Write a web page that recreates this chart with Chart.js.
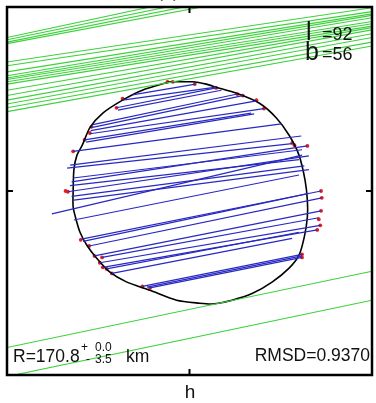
<!DOCTYPE html>
<html>
<head>
<meta charset="utf-8">
<script src="https://cdn.jsdelivr.net/npm/chart.js@4/dist/chart.umd.min.js"></script>
<style>
  body { margin: 0; background: #fff; }
  #wrap { width: 376px; height: 403px; }
</style>
</head>
<body>
<div id="wrap"><canvas id="chart" width="376" height="403"></canvas></div>
<script>
// plane of sky, km
const xRange = [-240, 240];
const yRange = [-241, 241];

// shape outline
const outlineX = [-26, 4, 22, 35, 62, 92, 114, 131, 144, 152, 155, 155, 151, 144, 131, 109, 83, 56, 30, 13, -17, -52, -83, -105, -122, -135, -144, -149, -153, -153, -152, -148, -141, -131, -114, -88, -62, -26];
const outlineY = [143, 143, 140, 136, 128, 115, 96, 73, 47, 14, -12, -34, -60, -84, -101, -119, -134, -143, -148, -147, -143, -130, -119, -106, -88, -71, -54, -38, -21, 1, 28, 47, 60, 83, 102, 119, 132, 143];

// positive chords
const chordX1 = [-75, -88, -96, -94, -127, -129, -130, -131, -138, -136, -153, -157, -161, -153, -155, -160, -157, -155, -152, -181, -152, -142, -140, -132, -125, -115, -118, -114, -109, -102, -62, -56, -52];
const chordY1 = [126, 119, 109, 106, 87, 83, 79, 75, 67, 64, 52, 34, 30, 17, 12, -1, 7, -7, -12, -30, -38, -63, -66, -72, -85, -87, -94, -100, -102, -108, -125, -126, -127];
const chordX2 = [8, 35, 35, 42, 63, 70, 88, 98, 81, 85, 121, 147, 135, 148, 155, 157, 144, 151, 157, 148, 144, 173, 157, 174, 173, 170, 172, 168, 144, 135, 148, 148, 148];
const chordY2 = [140, 136, 135, 132, 127, 125, 118, 108, 102, 101, 88, 72, 62, 54, 59, 46, 41, 33, 28, 47, 21, 0, -3, -9, -26, -35, -45, -51, -54, -62, -83, -85, -87];

// negative chords (y at left and right edge)
const missLeftY = [201, 198, 195, 193, 169, 164, 156, 151, 148, 146, 143, 140, 132, 125, 119, 114, 109, 104, -205, -243];
const missRightY = [303, 296, 290, 283, 240, 235, 232, 230, 227, 222, 219, 216, 214, 211, 206, 201, 195, 190, -105, -143];

// timing points
const dotX = [-29, -22, 7, 35, 63, 70, 88, 98, -88, -96, -129, -131, -138, -153, 135, 138, 155, -160, -163, 173, 174, 173, 170, 172, 168, -143, -132, -125, -115, -118, -114, -109, -102, -62, -52, 148, 148];
const dotY = [143, 143, 140, 135, 127, 125, 119, 108, 121, 109, 84, 76, 67, 52, 63, 60, 59, -1, 0, 0, -9, -26, -37, -45, -51, -64, -72, -85, -87, -94, -100, -102, -108, -125, -127, -83, -87];

const datasets = [];

missLeftY.forEach((yl, i) => {
    datasets.push({
        data: [{ x: xRange[0], y: yl }, { x: xRange[1], y: missRightY[i] }],
        showLine: true,
        borderColor: "rgb(60,210,60)",
        borderWidth: 1.1,
        pointRadius: 0
    });
});

chordX1.forEach((x1, i) => {
    datasets.push({
        data: [{ x: x1, y: chordY1[i] }, { x: chordX2[i], y: chordY2[i] }],
        showLine: true,
        borderColor: "rgb(40,40,195)",
        borderWidth: 1.2,
        pointRadius: 0
    });
});

datasets.push({
    data: outlineX.map((x, i) => ({ x: x, y: outlineY[i] })),
    showLine: true,
    borderColor: "#000",
    borderWidth: 1.6,
    tension: 0.25,
    pointRadius: 0
});

datasets.push({
    data: dotX.map((x, i) => ({ x: x, y: dotY[i] })),
    showLine: false,
    backgroundColor: "rgb(230,30,30)",
    borderColor: "rgb(230,30,30)",
    borderWidth: 0,
    pointRadius: 1.9
});

// frame, ticks and labels
const decor = {
    id: "decor",
    afterDraw(c) {
        const ctx = c.ctx;
        const a = c.chartArea;
        const x0 = c.scales.x.getPixelForValue(0);
        const y0 = c.scales.y.getPixelForValue(0);
        ctx.save();
        ctx.strokeStyle = "#000";
        ctx.lineWidth = 2.5;
        ctx.strokeRect(a.left, a.top, a.right - a.left, a.bottom - a.top);
        ctx.lineWidth = 2;
        ctx.beginPath();
        ctx.moveTo(x0, a.top); ctx.lineTo(x0, a.top + 6);
        ctx.moveTo(x0, a.bottom); ctx.lineTo(x0, a.bottom - 6);
        ctx.moveTo(a.left, y0); ctx.lineTo(a.left + 6, y0);
        ctx.moveTo(a.right, y0); ctx.lineTo(a.right - 6, y0);
        ctx.stroke();

        ctx.fillStyle = "#111";
        const f = "'Liberation Sans', Arial, sans-serif";
        ctx.textBaseline = "alphabetic";
        ctx.textAlign = "left";
        ctx.font = "25px " + f;
        ctx.fillText("l", 306, 40);
        ctx.fillText("b", 305, 60);
        ctx.font = "18px " + f;
        ctx.fillText("=92", 322, 40);
        ctx.fillText("=56", 322, 60);

        ctx.font = "17.5px " + f;
        ctx.fillText("R=170.8", 13, 362);
        ctx.fillText("km", 126, 362);
        ctx.font = "12px " + f;
        ctx.fillText("+", 81, 351);
        ctx.fillText("0.0", 95, 351);
        ctx.fillText("-", 86, 363);
        ctx.fillText("3.5", 95, 363);

        ctx.font = "17.5px " + f;
        ctx.textAlign = "right";
        ctx.fillText("RMSD=0.9370", 370, 361);

        ctx.textAlign = "center";
        ctx.font = "19px " + f;
        ctx.fillText("h", 190, 398);
        ctx.fillStyle = "#555";
        ctx.font = "18px " + f;
        ctx.fillText("(a)", 168, -3);
        ctx.restore();
    }
};

const chart = new Chart(document.getElementById("chart").getContext("2d"), {
    type: "scatter",
    data: { datasets: datasets },
    options: {
        responsive: false,
        animation: false,
        events: [],
        layout: { padding: { left: 7, right: 3, top: 7, bottom: 28 } },
        plugins: {
            legend: { display: false },
            tooltip: { enabled: false }
        },
        scales: {
            x: { type: "linear", display: false, min: xRange[0], max: xRange[1] },
            y: { type: "linear", display: false, min: yRange[0], max: yRange[1] }
        }
    },
    plugins: [decor]
});
</script>
</body>
</html>
